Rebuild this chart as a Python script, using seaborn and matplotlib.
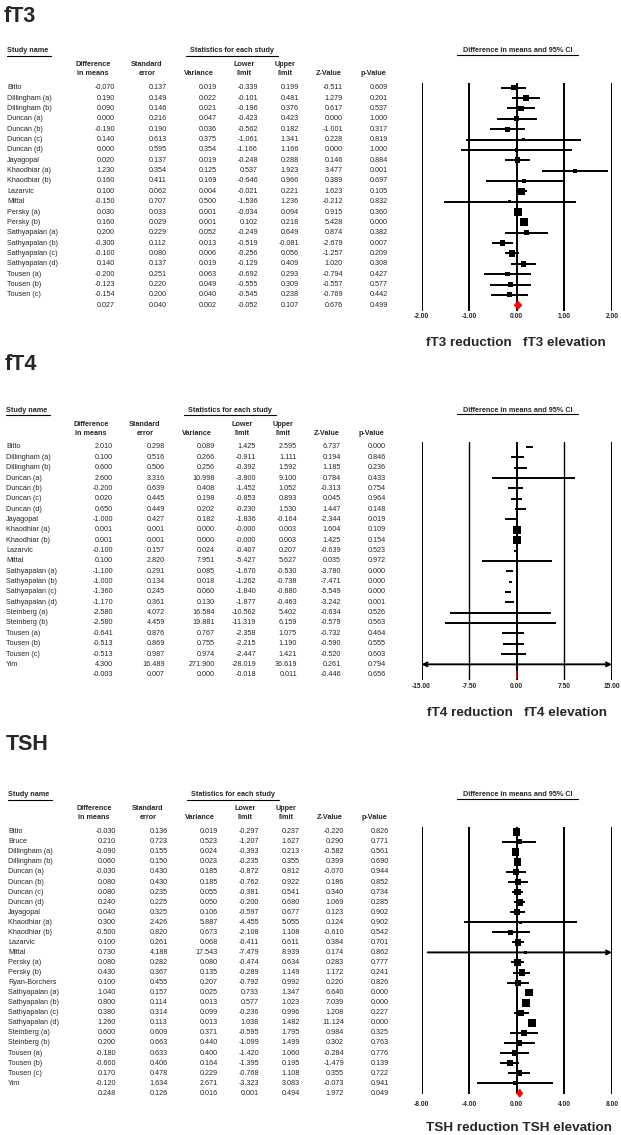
import numpy as np
import pandas as pd
import matplotlib
matplotlib.use("Agg")
import matplotlib.pyplot as plt
from matplotlib.patches import Polygon
from matplotlib.lines import Line2D
import seaborn as sns

# ---------------------------------------------------------------- data
ft3_studies = ["Bitto", "Dillingham (a)", "Dillingham (b)", "Duncan (a)", "Duncan (b)",
               "Duncan (c)", "Duncan (d)", "Jayagopal", "Khaodhiar (a)", "Khaodhiar (b)",
               "Lazarvic", "Mittal", "Persky (a)", "Persky (b)", "Sathyapalan (a)",
               "Sathyapalan (b)", "Sathyapalan (c)", "Sathyapalan (d)", "Tousen (a)",
               "Tousen (b)", "Tousen (c)"]
ft3_diff = [-0.070, 0.190, 0.090, 0.000, -0.190, 0.140, 0.000, 0.020, 1.230, 0.160, 0.100,
            -0.150, 0.030, 0.160, 0.200, -0.300, -0.100, 0.140, -0.200, -0.123, -0.154]
ft3_se = [0.137, 0.149, 0.146, 0.216, 0.190, 0.613, 0.595, 0.137, 0.354, 0.411, 0.062,
          0.707, 0.033, 0.029, 0.229, 0.112, 0.080, 0.137, 0.251, 0.220, 0.200]
ft3_var = [0.019, 0.022, 0.021, 0.047, 0.036, 0.375, 0.354, 0.019, 0.125, 0.169, 0.004,
           0.500, 0.001, 0.001, 0.052, 0.013, 0.006, 0.019, 0.063, 0.049, 0.040]
ft3_lower = [-0.339, -0.101, -0.196, -0.423, -0.562, -1.061, -1.166, -0.248, 0.537, -0.646,
             -0.021, -1.536, -0.034, 0.102, -0.249, -0.519, -0.256, -0.129, -0.692, -0.555, -0.545]
ft3_upper = [0.199, 0.481, 0.376, 0.423, 0.182, 1.341, 1.166, 0.288, 1.923, 0.966, 0.221,
             1.236, 0.094, 0.218, 0.649, -0.081, 0.056, 0.409, 0.293, 0.309, 0.238]
ft3_z = [-0.511, 1.279, 0.617, 0.000, -1.001, 0.228, 0.000, 0.146, 3.477, 0.389, 1.623,
         -0.212, 0.915, 5.428, 0.874, -2.679, -1.257, 1.020, -0.794, -0.557, -0.769]
ft3_p = [0.609, 0.201, 0.537, 1.000, 0.317, 0.819, 1.000, 0.884, 0.001, 0.697, 0.105,
         0.832, 0.360, 0.000, 0.382, 0.007, 0.209, 0.308, 0.427, 0.577, 0.442]
ft3_summary = [0.027, 0.040, 0.002, -0.052, 0.107, 0.676, 0.499]

ft4_studies = ["Bitto", "Dillingham (a)", "Dillingham (b)", "Duncan (a)", "Duncan (b)",
               "Duncan (c)", "Duncan (d)", "Jayagopal", "Khaodhiar (a)", "Khaodhiar (b)",
               "Lazarvic", "Mittal", "Sathyapalan (a)", "Sathyapalan (b)", "Sathyapalan (c)",
               "Sathyapalan (d)", "Steinberg (a)", "Steinberg (b)", "Tousen (a)", "Tousen (b)",
               "Tousen (c)", "Yim"]
ft4_diff = [2.010, 0.100, 0.600, 2.600, -0.200, 0.020, 0.650, -1.000, 0.001, 0.001, -0.100,
            0.100, -1.100, -1.000, -1.360, -1.170, -2.580, -2.580, -0.641, -0.513, -0.513, 4.300]
ft4_se = [0.298, 0.516, 0.506, 3.316, 0.639, 0.445, 0.449, 0.427, 0.001, 0.001, 0.157,
          2.820, 0.291, 0.134, 0.245, 0.361, 4.072, 4.459, 0.876, 0.869, 0.987, 16.489]
ft4_var = [0.089, 0.266, 0.256, 10.998, 0.408, 0.198, 0.202, 0.182, 0.000, 0.000, 0.024,
           7.951, 0.085, 0.018, 0.060, 0.130, 16.584, 19.881, 0.767, 0.755, 0.974, 271.900]
ft4_lower = [1.425, -0.911, -0.392, -3.900, -1.452, -0.853, -0.230, -1.836, -0.0, -0.0, -0.407,
             -5.427, -1.670, -1.262, -1.840, -1.877, -10.562, -11.319, -2.358, -2.215, -2.447, -28.019]
ft4_upper = [2.595, 1.111, 1.592, 9.100, 1.052, 0.893, 1.530, -0.164, 0.003, 0.003, 0.207,
             5.627, -0.530, -0.738, -0.880, -0.463, 5.402, 6.159, 1.075, 1.190, 1.421, 36.619]
ft4_z = [6.737, 0.194, 1.185, 0.784, -0.313, 0.045, 1.447, -2.344, 1.604, 1.425, -0.639,
         0.035, -3.780, -7.471, -5.549, -3.242, -0.634, -0.579, -0.732, -0.590, -0.520, 0.261]
ft4_p = [0.000, 0.846, 0.236, 0.433, 0.754, 0.964, 0.148, 0.019, 0.109, 0.154, 0.523,
         0.972, 0.000, 0.000, 0.000, 0.001, 0.526, 0.563, 0.464, 0.555, 0.603, 0.794]
ft4_summary = [-0.003, 0.007, 0.000, -0.018, 0.011, -0.446, 0.656]

tsh_studies = ["Bitto", "Bruce", "Dillingham (a)", "Dillingham (b)", "Duncan (a)", "Duncan (b)",
               "Duncan (c)", "Duncan (d)", "Jayagopal", "Khaodhiar (a)", "Khaodhiar (b)",
               "Lazarvic", "Mittal", "Persky (a)", "Persky (b)", "Ryan-Borchers",
               "Sathyapalan (a)", "Sathyapalan (b)", "Sathyapalan (c)", "Sathyapalan (d)",
               "Steinberg (a)", "Steinberg (b)", "Tousen (a)", "Tousen (b)", "Tousen (c)", "Yim"]
tsh_diff = [-0.030, 0.210, -0.090, 0.060, -0.030, 0.080, 0.080, 0.240, 0.040, 0.300, -0.500,
            0.100, 0.730, 0.080, 0.430, 0.100, 1.040, 0.800, 0.380, 1.260, 0.600, 0.200,
            -0.180, -0.600, 0.170, -0.120]
tsh_se = [0.136, 0.723, 0.155, 0.150, 0.430, 0.430, 0.235, 0.225, 0.325, 2.426, 0.820,
          0.261, 4.188, 0.282, 0.367, 0.455, 0.157, 0.114, 0.314, 0.113, 0.609, 0.663,
          0.633, 0.406, 0.478, 1.634]
tsh_var = [0.019, 0.523, 0.024, 0.023, 0.185, 0.185, 0.055, 0.050, 0.106, 5.887, 0.673,
           0.068, 17.543, 0.080, 0.135, 0.207, 0.025, 0.013, 0.099, 0.013, 0.371, 0.440,
           0.400, 0.164, 0.229, 2.671]
tsh_lower = [-0.297, -1.207, -0.393, -0.235, -0.872, -0.762, -0.381, -0.200, -0.597, -4.455,
             -2.108, -0.411, -7.479, -0.474, -0.289, -0.792, 0.733, 0.577, -0.236, 1.038,
             -0.595, -1.099, -1.420, -1.395, -0.768, -3.323]
tsh_upper = [0.237, 1.627, 0.213, 0.355, 0.812, 0.922, 0.541, 0.680, 0.677, 5.055, 1.108,
             0.611, 8.939, 0.634, 1.149, 0.992, 1.347, 1.023, 0.996, 1.482, 1.795, 1.499,
             1.060, 0.195, 1.108, 3.083]
tsh_z = [-0.220, 0.290, -0.582, 0.399, -0.070, 0.186, 0.340, 1.069, 0.123, 0.124, -0.610,
         0.384, 0.174, 0.283, 1.172, 0.220, 6.640, 7.039, 1.208, 11.124, 0.984, 0.302,
         -0.284, -1.479, 0.355, -0.073]
tsh_p = [0.826, 0.771, 0.561, 0.690, 0.944, 0.852, 0.734, 0.285, 0.902, 0.902, 0.542,
         0.701, 0.862, 0.777, 0.241, 0.826, 0.000, 0.000, 0.227, 0.000, 0.325, 0.763,
         0.776, 0.139, 0.722, 0.941]
tsh_summary = [0.248, 0.126, 0.016, 0.001, 0.494, 1.972, 0.049]

ft3_ticks = [-2.0, -1.0, 0.0, 1.0, 2.0]
ft4_ticks = [-15.0, -7.5, 0.0, 7.5, 15.0]
tsh_ticks = [-8.0, -4.0, 0.0, 4.0, 8.0]

col_headers = [("Difference", "in means"), ("Standard", "error"), ("", "Variance"),
               ("Lower", "limit"), ("Upper", "limit"), ("", "Z-Value"), ("", "p-Value")]

# ---------------------------------------------------------------- style
sns.set_theme(style="white")
plt.rcParams["font.family"] = ["Liberation Sans", "DejaVu Sans"]

W, H = 621, 1135
fig = plt.figure(figsize=(W / 100, H / 100), dpi=100)
fig.patch.set_facecolor("white")


def fx(x):
    return x / W


def fy(y):
    return 1 - y / H


def ftext(x, y, s, **kw):
    fig.text(fx(x), fy(y), s, **kw)


def uline(x0, x1, y, lw=0.8):
    fig.add_artist(Line2D([fx(x0), fx(x1)], [fy(y), fy(y)], transform=fig.transFigure,
                          color="black", lw=lw))


val_right = [115, 167, 217, 258, 299, 343, 388]
hdr_center = [93, 147, 199, 244, 285, 329, 373]

panels = [
    dict(title="fT3", title_x=4, title_y=21.7, row0=87.7, dy=10.36, xoff=0, name_x=7,
         top=82.7, bottom=311, tick_pad=1.6, label_y=343, label_x=516,
         label="fT3 reduction   fT3 elevation",
         studies=ft3_studies, diff=ft3_diff, se=ft3_se, var=ft3_var, lower=ft3_lower,
         upper=ft3_upper, z=ft3_z, p=ft3_p, summary=ft3_summary, ticks=ft3_ticks, inner_lw=1.4),
    dict(title="fT4", title_x=5, title_y=370, row0=447, dy=10.35, xoff=-2, name_x=6,
         top=441.7, bottom=680, tick_pad=2.3, label_y=713, label_x=517,
         label="fT4 reduction   fT4 elevation",
         studies=ft4_studies, diff=ft4_diff, se=ft4_se, var=ft4_var, lower=ft4_lower,
         upper=ft4_upper, z=ft4_z, p=ft4_p, summary=ft4_summary, ticks=ft4_ticks, inner_lw=1.0),
    dict(title="TSH", title_x=6, title_y=750, row0=831.7, dy=10.06, xoff=1, name_x=8,
         top=826.7, bottom=1094, tick_pad=5.2, label_y=1128, label_x=518.5,
         label="TSH reduction TSH elevation",
         studies=tsh_studies, diff=tsh_diff, se=tsh_se, var=tsh_var, lower=tsh_lower,
         upper=tsh_upper, z=tsh_z, p=tsh_p, summary=tsh_summary, ticks=tsh_ticks, inner_lw=1.4),
]

FS = 5.2
AX_L, AX_R = 421.5, 612.0

for P in panels:
    r0, dy, xo = P["row0"], P["dy"], P["xoff"]
    # title
    ftext(P["title_x"], P["title_y"], P["title"], fontsize=15.5, fontweight="bold",
          ha="left", va="baseline")
    # header block
    yh = r0 - 36.7
    ftext(P["name_x"], yh, "Study name", fontsize=FS, fontweight="bold", ha="left", va="center")
    uline(P["name_x"] - 0.5, P["name_x"] + 44, yh + 4.5)
    ftext(232 + xo, yh, "Statistics for each study", fontsize=FS, fontweight="bold",
          ha="center", va="center")
    uline(186 + xo, 278 + xo, yh + 4.5)
    ftext(518, yh, "Difference in means and 95% CI", fontsize=FS, fontweight="bold",
          ha="center", va="center")
    uline(457, 578, yh + 3.8)
    for (l1, l2), cx in zip(col_headers, hdr_center):
        if l1:
            ftext(cx + xo, r0 - 22.7, l1, fontsize=FS, fontweight="bold", ha="center", va="center")
        ftext(cx + xo, r0 - 13.8, l2, fontsize=FS, fontweight="bold", ha="center", va="center")

    # table rows
    cols = [P["diff"], P["se"], P["var"], P["lower"], P["upper"], P["z"], P["p"]]
    n = len(P["studies"])
    for i, name in enumerate(P["studies"]):
        y = r0 + i * dy
        ftext(P["name_x"], y, name, fontsize=FS, ha="left", va="center")
        for c, xr in zip(cols, val_right):
            ftext(xr + xo, y, f"{c[i]:.3f}", fontsize=FS, ha="right", va="center")
    ys = r0 + n * dy
    for v, xr in zip(P["summary"], val_right):
        ftext(xr + xo, ys, f"{v:.3f}", fontsize=FS, ha="right", va="center")

    # forest axes
    ax = fig.add_axes([fx(AX_L), fy(P["bottom"]), fx(AX_R) - fx(AX_L),
                       (P["bottom"] - P["top"]) / H])
    ticks = P["ticks"]
    xmin, xmax = ticks[0], ticks[-1]
    ax.set_xlim(xmin, xmax)
    ax.set_ylim((P["bottom"] - r0) / dy, (P["top"] - r0) / dy)
    for s in ax.spines.values():
        s.set_visible(False)
    ax.set_yticks([])
    ax.set_xticks(ticks)
    ax.set_xticklabels([f"{t:.2f}" for t in ticks], fontsize=4.8, fontweight="bold")
    ax.tick_params(axis="x", length=0, pad=P["tick_pad"])
    ax.grid(False)
    for t in ticks:
        lw = 1.4 if (t in (xmin, xmax) or t == 0) else P["inner_lw"]
        ax.axvline(t, color="black", lw=lw, zorder=1)

    # confidence intervals
    rows = np.arange(n)
    for i in range(n):
        lo, hi = P["lower"][i], P["upper"][i]
        lo_c, hi_c = max(lo, xmin), min(hi, xmax)
        la, ra = lo < xmin, hi > xmax
        if la or ra:
            style = "<->" if (la and ra) else ("<-" if la else "->")
            ax.annotate("", xy=(hi_c, rows[i]), xytext=(lo_c, rows[i]),
                        arrowprops=dict(arrowstyle=style, lw=1.4, color="black",
                                        shrinkA=0, shrinkB=0, mutation_scale=7),
                        zorder=2)
        else:
            ax.hlines(rows[i], lo_c, hi_c, color="black", lw=1.4, zorder=2)

    # squares sized by log inverse-variance weight
    se = np.array(P["se"])
    w = 1.0 / se ** 2
    side_px = np.clip(8.0 + 0.78 * np.log(w / w.max()), 0.05, None)
    area = (side_px * 0.72) ** 2
    df = pd.DataFrame({"diff": P["diff"], "row": rows, "area": area})
    amin, amax = float(area.min()), float(area.max())
    if amax - amin < 1e-9:
        amax = amin + 1.0
    sns.scatterplot(data=df, x="diff", y="row", size="area", sizes=(amin, amax),
                    size_norm=(amin, amax), marker="s", color="black", linewidth=0,
                    legend=False, ax=ax, zorder=3, clip_on=False)
    ax.set_xlabel("")
    ax.set_ylabel("")

    # summary diamond
    est, _, _, slo, shi = P["summary"][:5]
    h = 4.0 / dy
    diamond = Polygon([(slo, n), (est, n - h), (shi, n), (est, n + h)], closed=True,
                      facecolor="#ff0000", edgecolor="#ff0000", lw=0.6, zorder=4,
                      clip_on=False)
    ax.add_patch(diamond)

    # direction label
    ftext(P["label_x"], P["label_y"], P["label"], fontsize=9.7, fontweight="bold",
          ha="center", va="center")

fig.savefig("out.png", dpi=100, facecolor="white")
